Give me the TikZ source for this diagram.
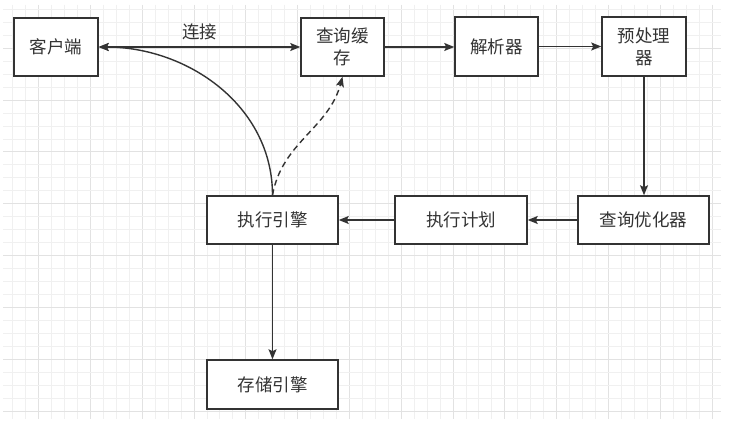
\documentclass[tikz,border=0pt]{standalone}
\usepackage{fontspec}
\setmainfont{Noto Sans CJK SC}
\usetikzlibrary{arrows.meta}
\definecolor{ink}{HTML}{333333}
\definecolor{gridminor}{HTML}{F0F0F0}
\definecolor{gridmajor}{HTML}{E2E2E2}
\tikzset{
  box/.style={draw=ink, line width=1.5pt, fill=white, text=ink, inner sep=2pt,
    align=center, font=\fontsize{17.5}{22}\selectfont},
  flow/.style={draw=ink, line width=1.4pt, -{Stealth[length=10pt,width=8pt,inset=2pt]}},
  lbl/.style={text=ink, font=\fontsize{17.5}{22}\selectfont}
}
\begin{document}
\begin{tikzpicture}[x=1pt,y=-1pt]
\fill[white] (0,0) rectangle (736,433);
\useasboundingbox (0,0) rectangle (736,433);
% grid
\foreach \k in {1,...,55}{
  \pgfmathsetmacro{\xx}{12.7+12.95*(\k-1)}
  \pgfmathtruncatemacro{\m}{mod(\k,4)}
  \ifnum\m=3
    \draw[gridmajor, line width=0.9pt] (\xx,5) -- (\xx,419);
  \else
    \draw[gridminor, line width=0.9pt] (\xx,5) -- (\xx,419);
  \fi
}
\foreach \k in {0,...,31}{
  \pgfmathsetmacro{\yy}{9.5+12.95*\k}
  \pgfmathtruncatemacro{\m}{mod(\k,4)}
  \ifnum\m=3
    \draw[gridmajor, line width=0.9pt] (3,\yy) -- (721,\yy);
  \else
    \draw[gridminor, line width=0.9pt] (3,\yy) -- (721,\yy);
  \fi
}
% nodes
\node[box, minimum width=84pt, minimum height=58pt] (client) at (56,47) {客户端};
\node[box, minimum width=83pt, minimum height=58pt] (cache) at (342.5,47) {查询缓\\存};
\node[box, minimum width=83pt, minimum height=59pt] (parser) at (496.5,46.5) {解析器};
\node[box, minimum width=84pt, minimum height=59pt] (pre) at (644,46.5) {预处理\\器};
\node[box, minimum width=131pt, minimum height=48pt] (opt) at (643.5,220) {查询优化器};
\node[box, minimum width=132pt, minimum height=48pt] (plan) at (461,220) {执行计划};
\node[box, minimum width=131pt, minimum height=48pt] (exec) at (272.5,220) {执行引擎};
\node[box, minimum width=131pt, minimum height=49pt] (store) at (272.5,384.5) {存储引擎};
% edges
\draw[flow, {Stealth[length=10pt,width=8pt,inset=2pt]}-{Stealth[length=10pt,width=8pt,inset=2pt]}] (client.east) -- node[lbl, above=3pt] {连接} (cache.west);
\draw[flow] (cache.east) -- (cache.east -| parser.west);
\draw[flow] (parser.east) -- (parser.east -| pre.west);
\draw[flow] (pre.south) -- (pre.south |- opt.north);
\draw[flow] (opt.west) -- (plan.east);
\draw[flow] (plan.west) -- (exec.east);
\draw[flow] (exec.south) -- (store.north);
\draw[flow] (exec.north) to[out=90,in=0] (client.east);
\draw[flow, dashed, dash pattern=on 6pt off 4pt] (exec.north) to[out=80,in=-105] (cache.south);
\end{tikzpicture}
\end{document}
